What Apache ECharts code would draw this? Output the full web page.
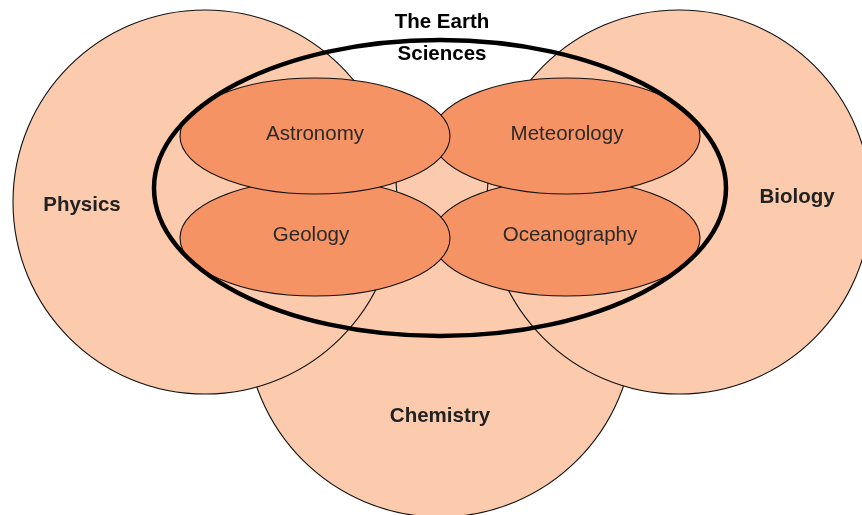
<!DOCTYPE html>
<html>
<head>
<meta charset="utf-8">
<script src="https://cdn.jsdelivr.net/npm/echarts@6/dist/echarts.min.js"></script>
<style>
html,body{margin:0;padding:0;background:#fff;}
#chart{width:862px;height:515px;}
</style>
</head>
<body>
<div id="chart"></div>
<script>
// Sets drawn in back-to-front order: name, centre x, centre y, radius x, radius y (axis units)
var setNames   = ['Chemistry', 'Physics', 'Biology', 'Oceanography', 'Geology', 'Meteorology', 'Astronomy'];
var setCx      = [440, 205, 679, 566, 315, 566, 315];
var setCy      = [323, 202, 202, 238, 238, 136, 136];
var setRx      = [194, 192, 192, 134, 135, 134, 135];
var setRy      = [194, 192, 192, 58, 58, 58, 58];
var setGroup   = ['field', 'field', 'field', 'earth', 'earth', 'earth', 'earth'];
// Label anchor for each set
var labelX     = [440, 82, 797, 570, 311, 567, 315];
var labelY     = [416, 205.5, 197.5, 235, 235, 134, 134];

// The enclosing "Earth Sciences" ellipse
var outerName  = ['The Earth', 'Sciences'];
var outerCx    = [440];
var outerCy    = [188];
var outerRx    = [286];
var outerRy    = [148];
var outerLabelX = [442, 442];
var outerLabelY = [22.5, 54.5];

var setData = setNames.map(function (n, i) {
  return [setCx[i], setCy[i], setRx[i], setRy[i], i];
});
var labelData = setNames.map(function (n, i) {
  return [labelX[i], labelY[i], i];
});
var outerData = [[outerCx[0], outerCy[0], outerRx[0], outerRy[0]]];
var outerLabelData = outerName.map(function (n, i) {
  return [outerLabelX[i], outerLabelY[i], i];
});

var chart = echarts.init(document.getElementById('chart'), null, {renderer: 'canvas'});

chart.setOption({
  animation: false,
  backgroundColor: '#ffffff',
  grid: {left: 0, right: 0, top: 0, bottom: 0},
  xAxis: {type: 'value', min: 0, max: 862, show: false},
  yAxis: {type: 'value', min: 0, max: 515, inverse: true, show: false},
  series: [
    {
      type: 'custom',
      coordinateSystem: 'cartesian2d',
      data: setData,
      clip: false,
      renderItem: function (params, api) {
        var c = api.coord([api.value(0), api.value(1)]);
        var s = api.size([api.value(2), api.value(3)]);
        var idx = api.value(4);
        var fill = setGroup[idx] === 'earth' ? '#F69364' : '#FCCBAD';
        return {
          type: 'ellipse',
          shape: {cx: c[0], cy: c[1], rx: s[0], ry: s[1]},
          style: {fill: fill, stroke: '#111', lineWidth: 1.1}
        };
      },
      z: 1
    },
    {
      type: 'custom',
      coordinateSystem: 'cartesian2d',
      data: outerData,
      clip: false,
      renderItem: function (params, api) {
        var c = api.coord([api.value(0), api.value(1)]);
        var s = api.size([api.value(2), api.value(3)]);
        return {
          type: 'ellipse',
          shape: {cx: c[0], cy: c[1], rx: s[0], ry: s[1]},
          style: {fill: null, stroke: '#000', lineWidth: 4.5}
        };
      },
      z: 2
    },
    {
      type: 'custom',
      coordinateSystem: 'cartesian2d',
      data: labelData,
      clip: false,
      renderItem: function (params, api) {
        var c = api.coord([api.value(0), api.value(1)]);
        var idx = api.value(2);
        var isEarth = setGroup[idx] === 'earth';
        return {
          type: 'text',
          x: c[0], y: c[1],
          style: {
            text: setNames[idx],
            fill: isEarth ? '#2a2a2a' : '#222',
            font: (isEarth ? 'normal ' : 'bold ') + '20.5px "Liberation Sans", Arial, sans-serif',
            textAlign: 'center',
            textVerticalAlign: 'middle'
          }
        };
      },
      z: 3
    },
    {
      type: 'custom',
      coordinateSystem: 'cartesian2d',
      data: outerLabelData,
      clip: false,
      renderItem: function (params, api) {
        var c = api.coord([api.value(0), api.value(1)]);
        var idx = api.value(2);
        return {
          type: 'text',
          x: c[0], y: c[1],
          style: {
            text: outerName[idx],
            fill: '#000',
            font: 'bold 20.5px "Liberation Sans", Arial, sans-serif',
            textAlign: 'center',
            textVerticalAlign: 'middle'
          }
        };
      },
      z: 3
    }
  ]
});
</script>
</body>
</html>
